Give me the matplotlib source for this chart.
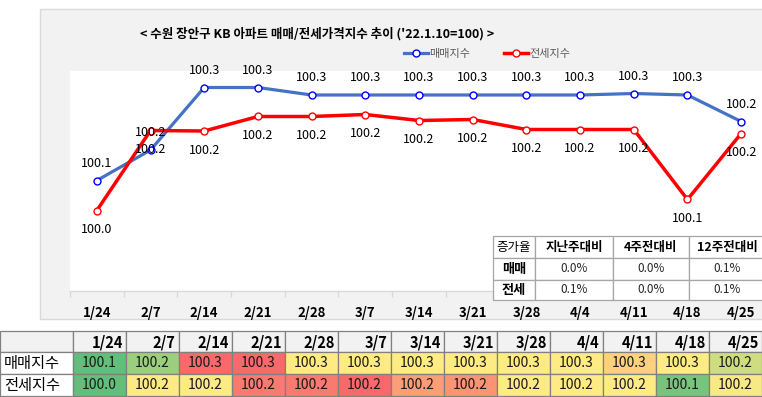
import numpy as np
import matplotlib
matplotlib.use("Agg")
import matplotlib.pyplot as plt
from matplotlib.patches import Rectangle

plt.rcParams['font.family'] = ['Noto Sans CJK KR', 'DejaVu Sans']

# ---------------- data ----------------
dates = ['1/24', '2/7', '2/14', '2/21', '2/28', '3/7', '3/14', '3/21', '3/28', '4/4', '4/11', '4/18', '4/25']
sale_idx = [100.099, 100.160, 100.285, 100.285, 100.270, 100.270, 100.270, 100.270, 100.270, 100.270, 100.273, 100.270, 100.217]
jeonse_idx = [100.039, 100.199, 100.198, 100.227, 100.227, 100.231, 100.219, 100.221, 100.201, 100.201, 100.201, 100.061, 100.193]
series_names = ['매매지수', '전세지수']
title = "< 수원 장안구 KB 아파트 매매/전세가격지수 추이 ('22.1.10=100) >"

rate_header = ['증가율', '지난주대비', '4주전대비', '12주전대비']
rate_rows = ['매매', '전세']
rate_sale = ['0.0%', '0.0%', '0.1%']
rate_jeonse = ['0.1%', '0.0%', '0.1%']

# ---------------- helpers ----------------
W, H = 762, 397
fig = plt.figure(figsize=(W / 100, H / 100), dpi=100)
fig.patch.set_facecolor('white')


def rect(x0, y0, x1, y1, fc, ec='none', lw=0.8, z=1):
    r = Rectangle((x0 / W, 1 - y1 / H), (x1 - x0) / W, (y1 - y0) / H,
                  transform=fig.transFigure, facecolor=fc, edgecolor=ec,
                  linewidth=lw, zorder=z)
    fig.add_artist(r)


def text(x, y, s, z=6, **kw):
    fig.text(x / W, 1 - y / H, s, zorder=z, **kw)


# chart area background
rect(40, 9, 775, 319, '#f2f2f2', '#d9d9d9', 1.0, z=-2)

# plot area
px0, py0, px1, py1 = 70, 71, 768, 291
ax = fig.add_axes([px0 / W, 1 - py1 / H, (px1 - px0) / W, (py1 - py0) / H])
ax.set_facecolor('white')
x = np.arange(len(dates))
ax.plot(x, sale_idx, color='#4472c4', lw=2.3, marker='o', ms=5,
        mfc='white', mec='#0000ff', mew=1.0, label=series_names[0], zorder=3)
ax.plot(x, jeonse_idx, color='#ff0000', lw=2.5, marker='o', ms=5,
        mfc='white', mec='#ff0000', mew=1.0, label=series_names[1], zorder=3)
ax.set_xlim(-0.5, len(dates) - 0.5)
ax.set_ylim(99.878, 100.318)
for xi, v in zip(x, sale_idx):
    ax.annotate(f"{v:.1f}", (xi, v), xytext=(0, 12.3), textcoords='offset points',
                ha='center', va='center', fontsize=9, color='black', zorder=4)
for xi, v in zip(x, jeonse_idx):
    ax.annotate(f"{v:.1f}", (xi, v), xytext=(0, -13.8), textcoords='offset points',
                ha='center', va='center', fontsize=9, color='black', zorder=4)
for s in ['top', 'right', 'left']:
    ax.spines[s].set_visible(False)
ax.spines['bottom'].set_color('#d9d9d9')
ax.spines['bottom'].set_linewidth(1.0)
ax.set_yticks([])
ax.set_xticks(x)
ax.set_xticklabels(dates, fontsize=9.5, fontweight='bold')
ax.tick_params(axis='x', which='major', length=0, pad=11)
ax.set_xticks(np.arange(-0.5, len(dates)), minor=True)
ax.tick_params(axis='x', which='minor', length=4, color='#d9d9d9', width=1)

# title
text(317, 34, title, fontsize=9, fontweight='bold', ha='center', va='center')

# legend
fig.legend(loc='center left', bbox_to_anchor=(404 / W, 1 - 54 / H), ncol=2,
           frameon=False, fontsize=8, labelcolor='#595959', handlelength=2.2,
           handletextpad=0.1, columnspacing=3.0, borderpad=0, borderaxespad=0)

# inset rate table
cx = [492.7, 535, 612.7, 689, 766]
ry = [236, 258, 279.5, 300]
for i in range(3):
    for j in range(4):
        rect(cx[j], ry[i], cx[j + 1], ry[i + 1], 'white', '#a6a6a6', 0.9, z=5)
for j, hdr in enumerate(rate_header):
    text((cx[j] + cx[j + 1]) / 2, (ry[0] + ry[1]) / 2, hdr, fontsize=9,
         fontweight='normal' if j == 0 else 'bold', ha='center', va='center')
for i, (rn, vals) in enumerate(zip(rate_rows, [rate_sale, rate_jeonse])):
    yc = (ry[i + 1] + ry[i + 2]) / 2
    text((cx[0] + cx[1]) / 2, yc, rn, fontsize=9.5, fontweight='bold', ha='center', va='center')
    for j, v in enumerate(vals):
        text((cx[j + 1] + cx[j + 2]) / 2, yc, v, fontsize=8.5, ha='center', va='center',
             color='#262626')


# ---------------- bottom table ----------------
GREEN = np.array([99, 190, 123]) / 255
YELLOW = np.array([255, 235, 132]) / 255
RED = np.array([248, 105, 107]) / 255


def scale_colors(vals):
    v = np.array(vals)
    lo, hi, mid = v.min(), v.max(), np.percentile(v, 50)
    out = []
    for a in v:
        if a <= mid:
            t = 0 if mid == lo else (a - lo) / (mid - lo)
            out.append(GREEN + t * (YELLOW - GREEN))
        else:
            t = (a - mid) / (hi - mid)
            out.append(YELLOW + t * (RED - YELLOW))
    return out


tx0, cw = 72.7, 53.0
ty = [330.7, 352.4, 374.3, 396.2]
# header
rect(0, ty[0], tx0, ty[1], '#f2f2f2', '#808080', 0.9, z=5)
for j, d in enumerate(dates):
    a = tx0 + j * cw
    rect(a, ty[0], a + cw, ty[1], '#f2f2f2', '#808080', 0.9, z=5)
    text(a + cw - 3, (ty[0] + ty[1]) / 2 + 1, d, fontsize=10.5, fontweight='bold',
         ha='right', va='center')
for i, (name, vals) in enumerate(zip(series_names, [sale_idx, jeonse_idx])):
    y0, y1 = ty[i + 1], ty[i + 2]
    rect(0, y0, tx0, y1, 'white', '#808080', 0.9, z=5)
    text(4, (y0 + y1) / 2, name, fontsize=11, ha='left', va='center')
    cols = scale_colors(vals)
    for j, v in enumerate(vals):
        a = tx0 + j * cw
        rect(a, y0, a + cw, y1, cols[j], '#808080', 0.9, z=5)
        text(a + cw / 2, (y0 + y1) / 2, f"{v:.1f}", fontsize=10, ha='center',
             va='center', color='#1a1a1a')

fig.savefig('out.png', dpi=100)
